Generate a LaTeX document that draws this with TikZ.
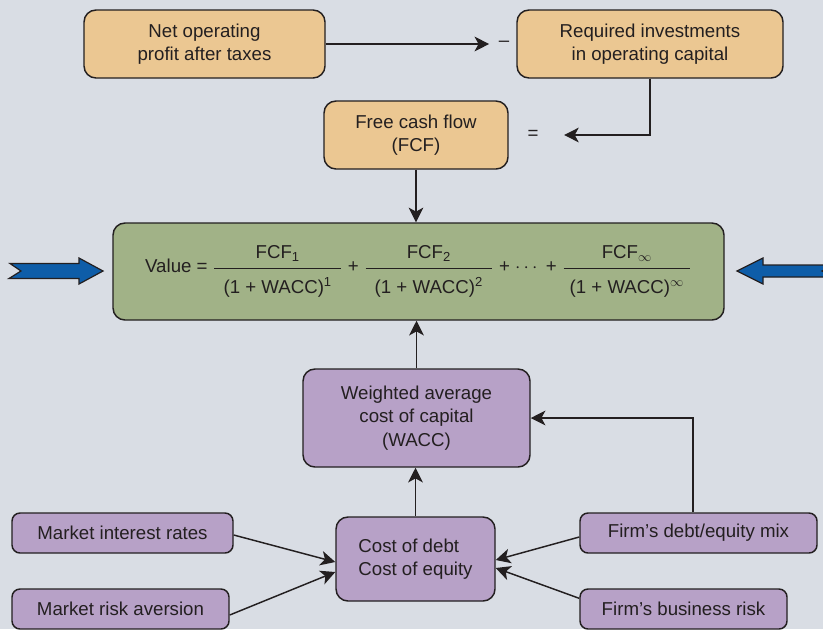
\documentclass[tikz,border=0pt]{standalone}
\usepackage{amsmath}
\usepackage{fontspec}
\setmainfont{Liberation Sans}
\usetikzlibrary{arrows.meta, positioning}

\definecolor{bgcol}{HTML}{D9DDE4}
\definecolor{linecol}{HTML}{231F20}
\definecolor{tancol}{HTML}{EBC792}
\definecolor{sagecol}{HTML}{A1B287}
\definecolor{lilaccol}{HTML}{B7A1C7}
\definecolor{arrowblue}{HTML}{0E5DA8}

\newcommand{\cashfrac}[2]{$\dfrac{\makebox[95pt]{#1\rule[-5pt]{0pt}{5pt}}}{\mbox{\rule{0pt}{17pt}#2}}$}

\begin{document}
\begin{tikzpicture}[x=0.75pt, y=-0.75pt]
	\tikzset {>={Stealth[length=11pt, width=11pt, inset=3pt]},
		box/.style={draw=linecol, line width=1.1pt, rounded corners=9pt, text=linecol, align=center, inner sep=2pt, font=\fontsize{14}{17.5}\selectfont},
		tanbox/.style={box, fill=tancol, minimum height=51pt},
		sagebox/.style={box, fill=sagecol},
		lilacbox/.style={box, fill=lilaccol},
		factorbox/.style={lilacbox, rounded corners=6pt, minimum height=30pt},
		sign/.style={text=linecol, inner sep=2pt, font=\fontsize{14}{17.5}\selectfont},
		flow/.style={->, draw=linecol, line width=1.1pt},
		bigarrow/.style={fill=arrowblue, draw=linecol, line width=0.9pt, line join=miter} }

	\useasboundingbox (0,0) rectangle (823,629);
	\clip (0,0) rectangle (823,629);
	\fill[bgcol] (0,0) rectangle (823,629);

	% cash flow part
	\node[tanbox, minimum width=180.75pt] (nopat) at (204.5,44) {Net operating\\profit after taxes};
	\node[tanbox, minimum width=199.5pt] (reqinv) at (650,44) {Required investments\\in operating capital};
	\node[tanbox, minimum width=138pt] (fcf) at (416,135) {Free cash flow\\(FCF)};
	\node[sign] (minus) at (504,44) {–};
	\node[sign] (equal) at (533,135) {=};

	% value equation
	\node[sagebox, minimum width=458.25pt, minimum height=72.75pt] (value) at (418.5,271.5)
		{Value = \cashfrac{FCF\textsubscript{1}}{(1 + WACC)\textsuperscript{1}}
		+ \cashfrac{FCF\textsubscript{2}}{(1 + WACC)\textsuperscript{2}}
		+ $\cdots$ + \cashfrac{FCF\textsubscript{$\infty$}}{(1 + WACC)\textsuperscript{$\infty$}}};

	% cost of capital part
	\node[lilacbox, minimum width=170.25pt, minimum height=73.5pt] (wacc) at (416.5,418) {Weighted average\\cost of capital\\(WACC)};
	\node[lilacbox, minimum width=119.25pt, minimum height=63pt, align=left] (cost) at (415.5,559) {Cost of debt\\Cost of equity};
	\node[factorbox, minimum width=165.75pt] (rates) at (122.5,533) {Market interest rates};
	\node[factorbox, minimum width=162.75pt] (aversion) at (120.5,609) {Market risk aversion};
	\node[factorbox, minimum width=177.75pt] (mix) at (698.5,533) {Firm’s debt/equity mix};
	\node[factorbox, minimum width=155.25pt] (bizrisk) at (683.5,609) {Firm’s business risk};

	\draw[flow, shorten >=5pt] (nopat) -- (minus);
	\draw[flow, shorten >=17pt] (reqinv.south) |- (equal);
	\draw[flow] (fcf.south) -- (value.north -| fcf.south);
	\draw[flow] (wacc.north) -- (value.south -| wacc.north);
	\draw[flow] (cost.north) -- (wacc.south -| cost.north);
	\draw[flow] ([xshift=-4pt]mix.north) |- (wacc.east);
	\draw[flow] ([yshift=-1.5pt]rates.east) -- ([yshift=-2.25pt]cost.west);
	\draw[flow] ([yshift=-4.5pt]aversion.east) -- ([yshift=-9.75pt]cost.west);
	\draw[flow] ([yshift=-3pt]mix.west) -- ([yshift=-0.75pt]cost.east);
	\draw[flow] ([yshift=8pt]bizrisk.west) -- ([yshift=-6.75pt]cost.east);

	% block arrows at the sides
	\draw[bigarrow] (10,263.5) -- (79,263.5) -- (79,258) -- (103,271) -- (79,284) -- (79,278.5) -- (9,278.5) -- (21,271) -- cycle;
	\draw[bigarrow] (737,271) -- (763,258) -- (763,265) -- (834,265) -- (822,271) -- (834,277) -- (763,277) -- (763,284) -- cycle;
\end{tikzpicture}
\end{document}
